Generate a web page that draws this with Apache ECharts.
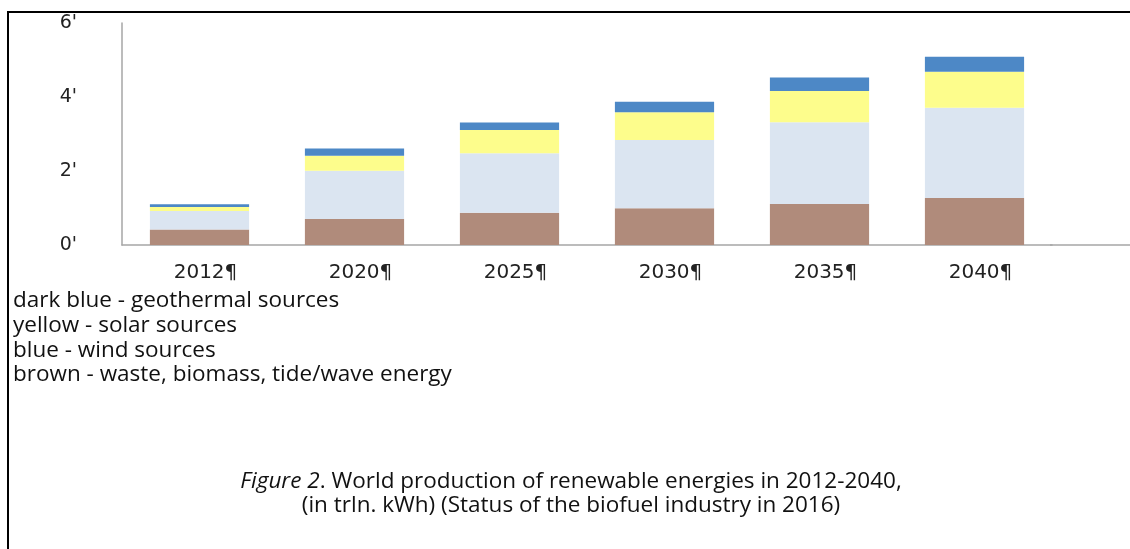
<!DOCTYPE html>
<html><head><meta charset="utf-8">
<script src="https://cdn.jsdelivr.net/npm/echarts@6/dist/echarts.min.js"></script>
<style>html,body{margin:0;padding:0;background:#fff}#c{width:1130px;height:549px}</style>
</head><body><div id="c"></div>
<script>
// ---- data ----
const categories = ['2012¶', '2020¶', '2025¶', '2030¶', '2035¶', '2040¶'];
const wasteBiomassTide = [0.42, 0.70, 0.87, 0.99, 1.11, 1.27];
const windSources = [0.50, 1.31, 1.61, 1.85, 2.21, 2.44];
const solarSources = [0.11, 0.40, 0.63, 0.75, 0.84, 0.97];
const geothermalSources = [0.07, 0.20, 0.20, 0.28, 0.37, 0.41];
const yTickSuffix = "'";
const legendLines = [
  'dark blue - geothermal sources',
  'yellow - solar sources',
  'blue - wind sources',
  'brown - waste, biomass, tide/wave energy'
];
const captionItalic = 'Figure 2';
const captionLine1 = '. World production of renewable energies in 2012-2040,';
const captionLine2 = '(in trln. kWh) (Status of the biofuel industry in 2016)';

// ---- chart ----
const chart = echarts.init(document.getElementById('c'));
const textFont = '"Open Sans"';
const fs = 22.5;
const graphics = [
  { type: 'line', shape: { x1: 8, y1: 12, x2: 1130, y2: 12 }, style: { stroke: '#000', lineWidth: 2 } },
  { type: 'line', shape: { x1: 8, y1: 11, x2: 8, y2: 549 }, style: { stroke: '#000', lineWidth: 2 } },
  { type: 'line', shape: { x1: 1050, y1: 245, x2: 1130, y2: 245 }, style: { stroke: '#a6a6a6', lineWidth: 1.5 } }
];
legendLines.forEach((t, i) => {
  graphics.push({ type: 'text', x: 13, y: 301 + i * 24.6,
    style: { text: t, font: fs + 'px ' + textFont, fill: '#111', verticalAlign: 'middle' } });
});
graphics.push({ type: 'text', x: 571, y: 482,
  style: { text: '{it|' + captionItalic + '}' + captionLine1, align: 'center', verticalAlign: 'middle',
    font: fs + 'px ' + textFont, fill: '#111',
    rich: { it: { fontStyle: 'italic', fontSize: fs, fontFamily: 'Open Sans', fill: '#111' } } } });
graphics.push({ type: 'text', x: 571, y: 505.5,
  style: { text: captionLine2, align: 'center', verticalAlign: 'middle', font: fs + 'px ' + textFont, fill: '#111' } });

const mk = (name, data, color) => ({
  name, type: 'bar', stack: 'total', data, barWidth: '64%',
  itemStyle: { color }, emphasis: { disabled: true }
});

chart.setOption({
  animation: false,
  backgroundColor: '#fff',
  grid: { left: 122, right: 78, top: 23, bottom: 304, containLabel: false },
  xAxis: {
    type: 'category', data: categories,
    axisLine: { lineStyle: { color: '#a6a6a6', width: 1.5 } },
    axisTick: { show: false },
    axisLabel: { fontFamily: 'DejaVu Sans', fontSize: 20, color: '#222', margin: 18,
      padding: [0, 0, 0, 12] }
  },
  yAxis: {
    type: 'value', min: 0, max: 6, interval: 2,
    axisLine: { show: true, lineStyle: { color: '#a6a6a6', width: 1.5 } },
    axisTick: { show: false },
    splitLine: { show: false },
    axisLabel: { fontFamily: 'DejaVu Sans', fontSize: 19, color: '#222', margin: 45,
      verticalAlign: 'middle', padding: [10, 0, 0, 0], formatter: v => v + yTickSuffix }
  },
  series: [
    mk('brown - waste, biomass, tide/wave energy', wasteBiomassTide, '#b08b7b'),
    mk('blue - wind sources', windSources, '#dbe5f1'),
    mk('yellow - solar sources', solarSources, '#fdfd8c'),
    mk('dark blue - geothermal sources', geothermalSources, '#4d88c6')
  ],
  graphic: graphics
});
</script></body></html>
